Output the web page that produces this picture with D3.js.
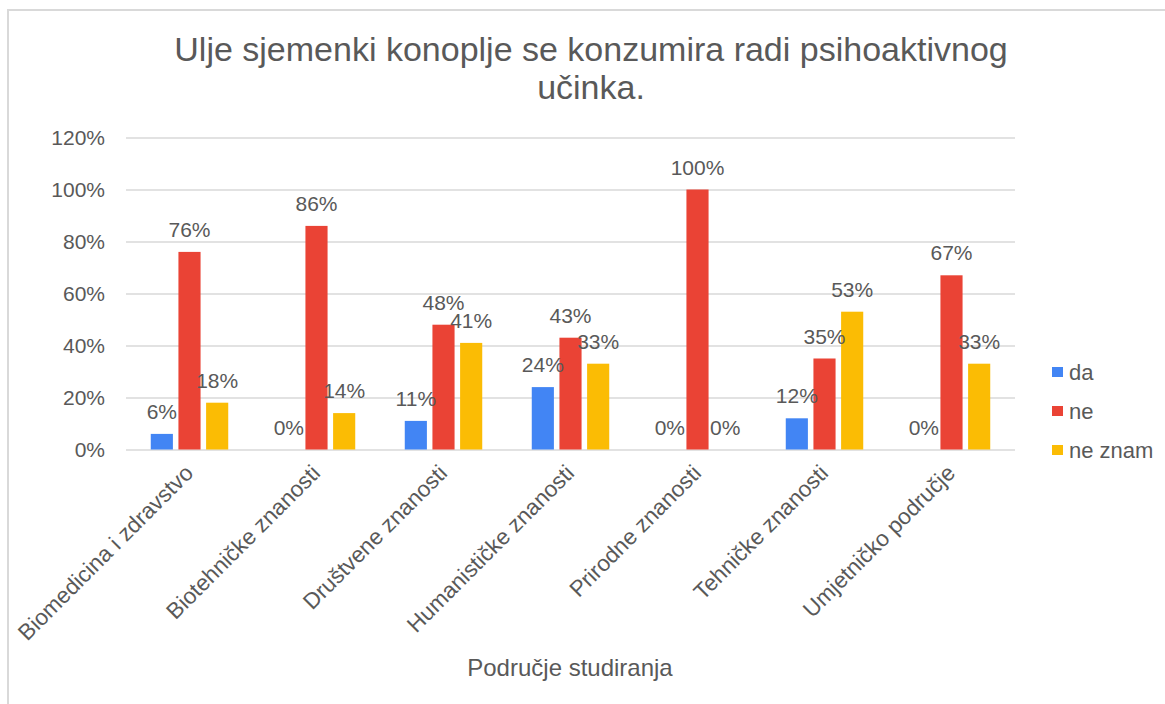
<!DOCTYPE html>
<html>
<head>
<meta charset="utf-8">
<script src="https://cdn.jsdelivr.net/npm/d3@7"></script>
<style>
  body { margin: 0; background: #fff; }
  text { font-family: "Liberation Sans", Arial, sans-serif; fill: #595959; }
</style>
</head>
<body>
<svg></svg>
<script>
const categories = [
    "Biomedicina i zdravstvo",
    "Biotehničke znanosti",
    "Društvene znanosti",
    "Humanističke znanosti",
    "Prirodne znanosti",
    "Tehničke znanosti",
    "Umjetničko područje"
];
const seriesNames = ["da", "ne", "ne znam"];
const daValues = [0.06, 0.00, 0.11, 0.24, 0.00, 0.12, 0.00];
const neValues = [0.76, 0.86, 0.48, 0.43, 1.00, 0.35, 0.67];
const neZnamValues = [0.18, 0.14, 0.41, 0.33, 0.00, 0.53, 0.33];
const yTicks = [0, 0.2, 0.4, 0.6, 0.8, 1.0, 1.2];
const colors = ["#4285F4", "#EA4335", "#FBBC04"];

const series = [daValues, neValues, neZnamValues];

const svg = d3.select("svg")
    .attr("width", 1165)
    .attr("height", 704);

// chart frame (right and bottom edges fall outside the shot)
svg.append("rect")
    .attr("x", 8).attr("y", 10)
    .attr("width", 1300).attr("height", 900)
    .attr("fill", "none")
    .attr("stroke", "#d9d9d9")
    .attr("stroke-width", 2);

const plotLeft = 126, plotRight = 1015, plotTop = 137.5, plotBottom = 449.5;

const x0 = d3.scaleBand().domain(categories).range([plotLeft, plotRight]);
const x1 = d3.scaleBand().domain(seriesNames)
    .range([x0.bandwidth() * 0.195, x0.bandwidth() * 0.805])
    .paddingInner(0.2);
const y = d3.scaleLinear().domain([0, 1.2]).range([plotBottom, plotTop]);

// title
svg.append("text")
    .attr("x", 591).attr("y", 61)
    .attr("text-anchor", "middle")
    .style("font-size", "34px")
    .selectAll("tspan")
    .data(["Ulje sjemenki konoplje se konzumira radi psihoaktivnog", "učinka."])
    .enter().append("tspan")
    .attr("x", 591)
    .attr("dy", (d, i) => i === 0 ? 0 : 38)
    .text(d => d);

// gridlines + y labels
const yAxis = d3.axisLeft(y)
    .tickValues(yTicks)
    .tickSize(-(plotRight - plotLeft))
    .tickPadding(21)
    .tickFormat(d3.format(".0%"));

const gy = svg.append("g")
    .attr("transform", `translate(${plotLeft},0)`)
    .call(yAxis);
gy.select(".domain").remove();
gy.selectAll(".tick line").attr("stroke", "#d9d9d9").attr("stroke-width", 1.5);
gy.selectAll(".tick text")
    .style("font-size", "21px")
    .attr("fill", "#595959");

// bars
const groups = svg.append("g").selectAll("g")
    .data(categories)
    .enter().append("g")
    .attr("transform", d => `translate(${x0(d)},0)`);

groups.selectAll("rect")
    .data((d, i) => seriesNames.map((s, k) => ({ s: s, v: series[k][i], k: k })))
    .enter().append("rect")
    .attr("x", d => x1(d.s))
    .attr("width", x1.bandwidth())
    .attr("y", d => y(d.v))
    .attr("height", d => plotBottom - y(d.v))
    .attr("fill", d => colors[d.k]);

groups.selectAll("text.lbl")
    .data((d, i) => seriesNames.map((s, k) => ({ s: s, v: series[k][i], k: k })))
    .enter().append("text")
    .attr("class", "lbl")
    .attr("x", d => x1(d.s) + x1.bandwidth() / 2)
    .attr("y", d => y(d.v) - 15)
    .attr("text-anchor", "middle")
    .style("font-size", "21px")
    .text(d => d3.format(".0%")(d.v));

// x labels
const xAxis = d3.axisBottom(x0).tickSize(0).tickPadding(0);
const gx = svg.append("g")
    .attr("transform", `translate(0,${plotBottom})`)
    .call(xAxis);
gx.select(".domain").remove();
gx.selectAll(".tick text")
    .attr("text-anchor", "end")
    .attr("dy", null)
    .attr("y", 0)
    .attr("transform", "translate(5,25) rotate(-45)")
    .style("font-size", "22.5px")
    .attr("fill", "#595959");

// axis title
svg.append("text")
    .attr("x", 570).attr("y", 676)
    .attr("text-anchor", "middle")
    .style("font-size", "24px")
    .text("Područje studiranja");

// legend
const legend = svg.append("g").selectAll("g")
    .data(seriesNames)
    .enter().append("g")
    .attr("transform", (d, i) => `translate(1052,${372 + i * 39})`);
legend.append("rect")
    .attr("x", 0).attr("y", -5)
    .attr("width", 11).attr("height", 10)
    .attr("fill", (d, i) => colors[i]);
legend.append("text")
    .attr("x", 17).attr("y", 7.5)
    .style("font-size", "22px")
    .text(d => d);
</script>
</body>
</html>
